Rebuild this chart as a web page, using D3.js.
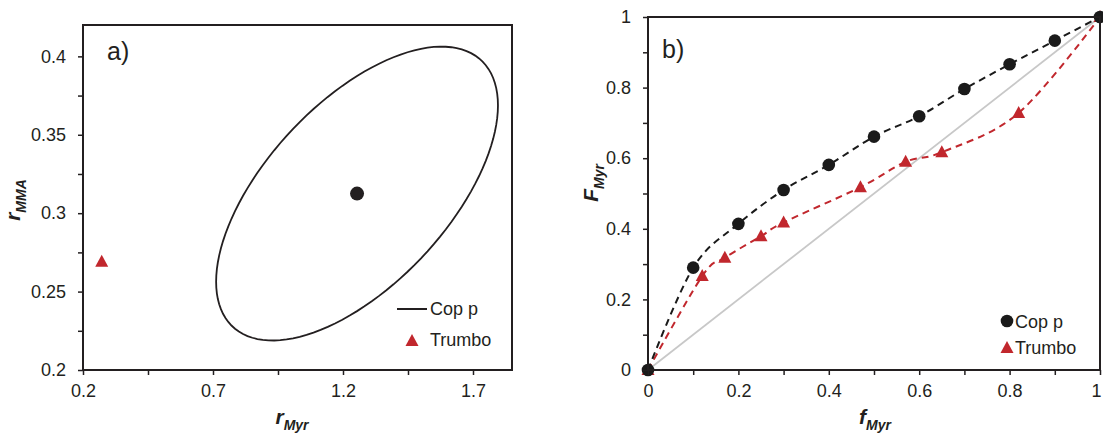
<!DOCTYPE html>
<html>
<head>
<meta charset="utf-8">
<script src="https://cdn.jsdelivr.net/npm/d3@7"></script>
<style>
  body { margin: 0; background: #fff; }
  text { font-family: "Liberation Sans", Arial, sans-serif; fill: #231f20; }
</style>
</head>
<body>
<div id="chart"></div>
<script>
var width = 1103,
    height = 435;

// panel a: ellipse (Cop p) + Trumbo point
var copCenter = [1.254, 0.3125];
var copSpread = [0.542, 0.0937];   // half width / half height of ellipse
var copCorr = 0.6;
var trumboPoint = [0.272, 0.269];
var aXTicks = [0.2, 0.7, 1.2, 1.7];
var aXMinor = [0.45, 0.95, 1.45];
var aYTicks = [0.2, 0.25, 0.3, 0.35, 0.4];
var aYMinor = [0.225, 0.275, 0.325, 0.375];

// panel b
var copF_x = [0, 0.1, 0.2, 0.3, 0.4, 0.5, 0.6, 0.7, 0.8, 0.9, 1];
var copF_y = [0, 0.29, 0.414, 0.51, 0.581, 0.661, 0.719, 0.796, 0.866, 0.933, 1];
var trumboF_x = [0, 0.12, 0.17, 0.25, 0.30, 0.47, 0.57, 0.65, 0.82, 1];
var trumboF_y = [0, 0.266, 0.318, 0.379, 0.418, 0.518, 0.59, 0.617, 0.728, 1];
var bTicks = [0, 0.2, 0.4, 0.6, 0.8, 1];
var bMinor = [0.1, 0.3, 0.5, 0.7, 0.9];

var ink = '#231f20',
    red = '#c1272d';

var svg = d3.select('#chart').append('svg')
  .attr('width', width)
  .attr('height', height);

function tri(g, x, y, col) {
  g.append('path')
    .attr('d', 'M' + x + ',' + (y - 7) + 'L' + (x + 6.5) + ',' + (y + 5) + 'L' + (x - 6.5) + ',' + (y + 5) + 'Z')
    .attr('fill', col);
}

function axes(g, x, y, xt, xm, yt, ym, fmt) {
  var x0 = x.range()[0], x1 = x.range()[1], y0 = y.range()[0], y1 = y.range()[1];
  var xa = g.append('g').attr('transform', 'translate(0,' + y0 + ')')
    .call(d3.axisBottom(x).tickValues(xt).tickSize(5).tickSizeOuter(0).tickPadding(9).tickFormat(fmt));
  g.append('g').attr('transform', 'translate(0,' + y0 + ')')
    .call(d3.axisBottom(x).tickValues(xm).tickSize(5).tickSizeOuter(0).tickFormat(''));
  var ya = g.append('g').attr('transform', 'translate(' + x0 + ',0)')
    .call(d3.axisLeft(y).tickValues(yt).tickSize(5).tickSizeOuter(0).tickPadding(12).tickFormat(fmt));
  g.append('g').attr('transform', 'translate(' + x0 + ',0)')
    .call(d3.axisLeft(y).tickValues(ym).tickSize(5).tickSizeOuter(0).tickFormat(''));
  g.selectAll('.domain').remove();
  g.selectAll('.tick line').attr('stroke', ink).attr('stroke-width', 1.5);
  g.selectAll('.tick text').attr('font-size', 18).attr('font-family', '"Liberation Sans", Arial, sans-serif').attr('fill', ink);
  g.append('rect')
    .attr('x', x0).attr('y', y1)
    .attr('width', x1 - x0).attr('height', y0 - y1)
    .attr('fill', 'none').attr('stroke', ink).attr('stroke-width', 2);
  return xa;
}

function label(g, x, y, main, sub, rot) {
  var t = g.append('text')
    .attr('text-anchor', 'middle')
    .attr('font-weight', 'bold')
    .attr('font-style', 'italic')
    .attr('transform', 'translate(' + x + ',' + y + ')' + (rot ? ' rotate(-90)' : ''));
  t.append('tspan').attr('font-size', 21).text(main);
  t.append('tspan').attr('font-size', 14).attr('dy', 6).text(sub);
}

var fmt = function(d) { return String(+d.toFixed(3)); };

// ---------- panel a ----------
var ga = svg.append('g');
var xa = d3.scaleLinear().domain([0.2, 1.85]).range([83, 512]);
var ya = d3.scaleLinear().domain([0.2, 0.42]).range([370, 25]);

var ell = d3.range(0, 361, 3).map(function(deg) {
  var t = deg * Math.PI / 180, phi = Math.acos(copCorr);
  return [copCenter[0] + copSpread[0] * Math.cos(t), copCenter[1] + copSpread[1] * Math.cos(t - phi)];
});
ga.append('path')
  .attr('d', d3.line().x(function(d) { return xa(d[0]); }).y(function(d) { return ya(d[1]); }).curve(d3.curveLinearClosed)(ell))
  .attr('fill', 'none').attr('stroke', ink).attr('stroke-width', 1.8);

ga.append('circle').attr('cx', xa(copCenter[0])).attr('cy', ya(copCenter[1])).attr('r', 7).attr('fill', ink);
tri(ga, xa(trumboPoint[0]), ya(trumboPoint[1]), red);

axes(ga, xa, ya, aXTicks, aXMinor, aYTicks, aYMinor, fmt);

ga.append('text').attr('x', 107).attr('y', 60).attr('font-size', 25).text('a)');
ga.append('line').attr('x1', 397).attr('x2', 427).attr('y1', 309).attr('y2', 309).attr('stroke', ink).attr('stroke-width', 2);
ga.append('text').attr('x', 430).attr('y', 315).attr('font-size', 18).text('Cop p');
tri(ga, 412, 341, red);
ga.append('text').attr('x', 430).attr('y', 346).attr('font-size', 18).text('Trumbo');

label(ga, 292, 424, 'r', 'Myr', false);
label(ga, 20, 200, 'r', 'MMA', true);

// ---------- panel b ----------
var gb = svg.append('g');
var xb = d3.scaleLinear().domain([0, 1]).range([648, 1100]);
var yb = d3.scaleLinear().domain([0, 1]).range([370, 17]);

gb.append('line')
  .attr('x1', xb(0)).attr('y1', yb(0)).attr('x2', xb(1)).attr('y2', yb(1))
  .attr('stroke', '#c8c8c8').attr('stroke-width', 1.8);

var smooth = d3.line().curve(d3.curveCardinal.tension(0));
var copPts = copF_x.map(function(v, i) { return [xb(v), yb(copF_y[i])]; });
var truPts = trumboF_x.map(function(v, i) { return [xb(v), yb(trumboF_y[i])]; });

gb.append('path').attr('d', smooth(truPts))
  .attr('fill', 'none').attr('stroke', red).attr('stroke-width', 2).attr('stroke-dasharray', '7,5');
gb.append('path').attr('d', smooth(copPts))
  .attr('fill', 'none').attr('stroke', '#1a1a1a').attr('stroke-width', 2).attr('stroke-dasharray', '7,5');

truPts.forEach(function(p) { tri(gb, p[0], p[1], red); });
copPts.forEach(function(p) {
  gb.append('circle').attr('cx', p[0]).attr('cy', p[1]).attr('r', 6.3).attr('fill', '#1a1a1a');
});

var bx = axes(gb, xb, yb, bTicks, bMinor, bTicks, bMinor, fmt);
// last x label sits on the page edge; nudge it inside
bx.selectAll('.tick text').filter(function(d) { return d === 1; }).attr('dx', -4);

gb.append('text').attr('x', 662).attr('y', 58).attr('font-size', 25).text('b)');
gb.append('circle').attr('cx', 1007).attr('cy', 321).attr('r', 6.3).attr('fill', '#1a1a1a');
gb.append('text').attr('x', 1015).attr('y', 328).attr('font-size', 18).text('Cop p');
tri(gb, 1007, 348, red);
gb.append('text').attr('x', 1015).attr('y', 354).attr('font-size', 18).text('Trumbo');

label(gb, 875, 424, 'f', 'Myr', false);
label(gb, 598, 183, 'F', 'Myr', true);
</script>
</body>
</html>
